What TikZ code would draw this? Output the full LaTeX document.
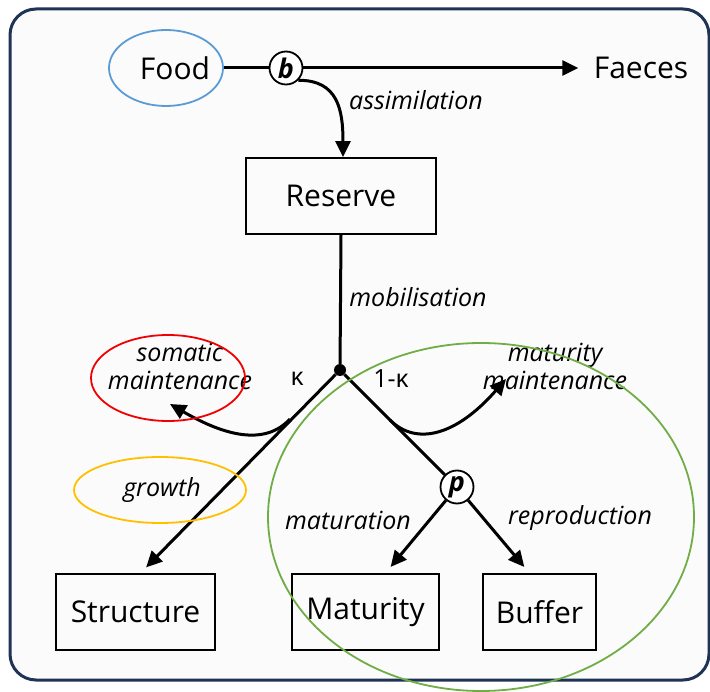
\documentclass[tikz,border=0pt]{standalone}
\usepackage{fontspec}
\setmainfont{Open Sans}
\usetikzlibrary{arrows.meta,shapes.geometric,positioning}
\definecolor{frameblue}{HTML}{1F3354}
\definecolor{foodblue}{HTML}{5B9BD5}
\definecolor{somred}{HTML}{F00000}
\definecolor{growyellow}{HTML}{FFC000}
\definecolor{matgreen}{HTML}{70AD47}

\tikzset{
  pool/.style={draw, line width=1.8pt, minimum height=76pt, font=\fontsize{30}{34}\selectfont},
  flux/.style={font=\itshape\fontsize{25}{28}\selectfont, align=center},
  switch/.style={circle, draw, line width=1.8pt, fill=white, inner sep=0pt, minimum size=33pt,
    font=\bfseries\itshape\fontsize{27}{28}\selectfont},
  flow/.style={line width=3pt, -{Triangle[length=16pt,width=15pt]}},
  wire/.style={line width=3pt},
}

\begin{document}
\begin{tikzpicture}[x=1pt,y=-1pt]
\useasboundingbox (0,0) rectangle (710,692);
\draw[frameblue, line width=3pt, fill=black!1.5, rounded corners=26pt] (10,9) rectangle (709,680);

% pools
\node[pool, minimum width=190pt] (reserve) at (341,196) {Reserve};
\node[pool, minimum width=159pt] (structure) at (135.5,612) {Structure};
\node[pool, minimum width=147pt] (maturity) at (365.5,612) {Maturity};
\node[pool, minimum width=113pt] (buffer) at (539.5,612) {Buffer};

% inputs and outputs
\node[ellipse, draw=foodblue, line width=1.8pt, minimum width=114pt, minimum height=76pt] (food) at (166,68) {};
\node[font=\fontsize{30}{34}\selectfont] (foodtext) at (175,68) {Food};
\node[font=\fontsize{30}{34}\selectfont] (faeces) at (641,68) {Faeces};

% switches
\node[switch] (b) at (286,68) {b};
\node[switch] (p) at (457,487) {p};
\node[circle, fill, inner sep=0pt, minimum size=12pt] (split) at (340,370) {};

\coordinate (kl) at (290,419);
\coordinate (kr) at (390,420);
\coordinate (somatic) at (170,404);
\coordinate (matmaint) at (506,379);

% fluxes
\draw[wire] (food.east) -- (b.west);
\draw[flow] (b.east) -- ([xshift=-12pt]faeces.west);
\draw[flow] (b.south east) .. controls (338,80) and (343,110) .. ([xshift=2pt]reserve.north);
\draw[wire] (reserve.south) -- (split);
\draw[flow, shorten >=8pt] (split) -- ([xshift=5pt]structure.north);
\draw[wire] (split) -- (p);
\draw[flow] (kl) .. controls (265,446) and (225,436) .. (somatic);
\draw[flow] (kr) .. controls (416,446) and (456,436) .. (matmaint);
\draw[flow, shorten >=8pt] (p) -- ([xshift=20pt]maturity.north);
\draw[flow, shorten >=8pt] (p) -- ([xshift=-10pt]buffer.north);

% labels
\node[flux] (assim) at (416,100) {assimilation};
\node[flux] (mobil) at (418,297) {mobilisation};
\node[flux] (somlab) at (180,366) {somatic\\maintenance};
\node[flux] (matlab) at (555,366) {maturity\\maintenance};
\node[flux] (growlab) at (162,490) {growth};
\node[flux] (matulab) at (348,520) {maturation};
\node[flux] (reprlab) at (580,518) {reproduction};
\node[font=\fontsize{25}{28}\selectfont] (kappa) at (297,379) {κ};
\node[font=\fontsize{25}{28}\selectfont] (kappac) at (391,379) {1-κ};

% groupings
\draw[somred, line width=1.8pt] (168,378) ellipse [x radius=77, y radius=43];
\draw[growyellow, line width=1.8pt] (160,490) ellipse [x radius=86, y radius=33];
\draw[matgreen, line width=1.8pt] (481,517) ellipse [x radius=213, y radius=174];
\end{tikzpicture}
\end{document}
